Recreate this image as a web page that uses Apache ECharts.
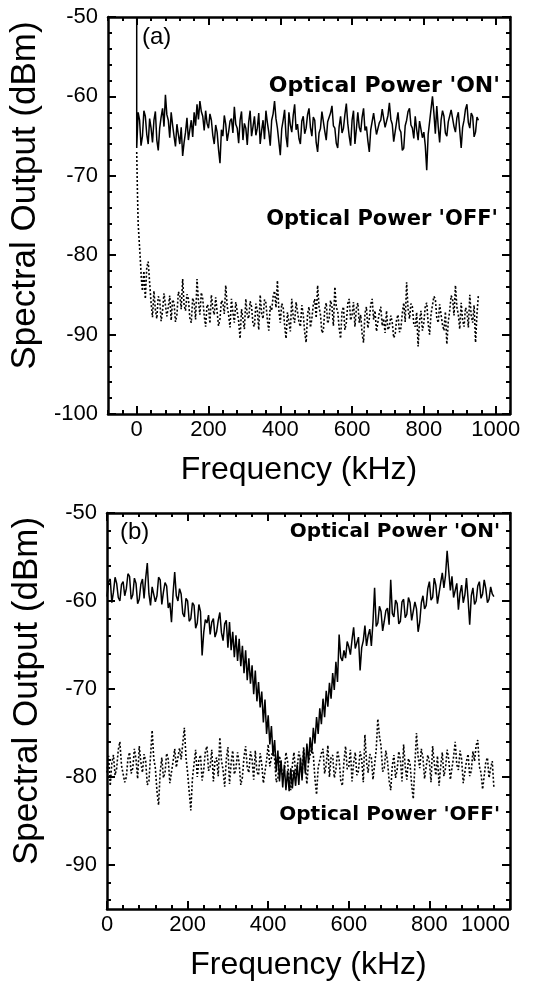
<!DOCTYPE html>
<html><head><meta charset="utf-8">
<script src="https://cdn.jsdelivr.net/npm/echarts@6/dist/echarts.min.js"></script>
<style>html,body{margin:0;padding:0;background:#fff}#c{width:538px;height:987px}</style>
</head><body><div id="c"></div>
<script>
// ---- frequency sample grid (kHz) ----
const freq4 = [0,4,8,12,16,20,24,28,32,36,40,44,48,52,56,60,64,68,72,76,80,84,88,92,96,100,104,108,112,116,120,124,128,132,136,140,144,148,152,156,160,164,168,172,176,180,184,188,192,196,200,204,208,212,216,220,224,228,232,236,240,244,248,252,256,260,264,268,272,276,280,284,288,292,296,300,304,308,312,316,320,324,328,332,336,340,344,348,352,356,360,364,368,372,376,380,384,388,392,396,400,404,408,412,416,420,424,428,432,436,440,444,448,452,456,460,464,468,472,476,480,484,488,492,496,500,504,508,512,516,520,524,528,532,536,540,544,548,552,556,560,564,568,572,576,580,584,588,592,596,600,604,608,612,616,620,624,628,632,636,640,644,648,652,656,660,664,668,672,676,680,684,688,692,696,700,704,708,712,716,720,724,728,732,736,740,744,748,752,756,760,764,768,772,776,780,784,788,792,796,800,804,808,812,816,820,824,828,832,836,840,844,848,852,856,860,864,868,872,876,880,884,888,892,896,900,904,908,912,916,920,924,928,932,936,940,944,948,952,956,960];

// ---- panel (a) ----
const dcSpikeA = [[0,-50]];
const valAOn = [-66.5,-62,-63,-66.2,-65,-61.8,-62.5,-64.8,-66,-62.8,-64,-65.8,-63,-61.9,-65.5,-66.8,-64,-62.6,-61.5,-63.8,-59.8,-62.3,-63,-65.2,-62,-63.6,-65,-66.3,-63.5,-64.8,-66,-63.9,-67.5,-65.8,-64.5,-62.7,-65.5,-64.2,-63,-65.1,-62,-63.7,-61,-62.9,-60.6,-61.9,-62.5,-64.3,-61.8,-63.4,-64,-62.2,-63,-64.9,-66,-63.6,-64.5,-66.7,-68.4,-64.2,-65,-62.4,-63.5,-65.6,-64.5,-63.1,-62.8,-64.6,-61.3,-63.5,-64,-65.9,-63,-61.9,-65.5,-63.4,-64,-66.1,-63.2,-61.8,-65,-63.8,-62.5,-64.9,-64,-62.1,-66,-64.3,-63,-65.4,-61.8,-63.3,-64.5,-66.2,-63,-62.2,-60.6,-62.8,-64,-65.7,-67.4,-64.1,-63,-61.7,-65,-66.4,-62,-63.6,-64.5,-62.4,-61,-64.2,-63.5,-65.3,-66,-63.1,-62.5,-64.7,-64,-62.3,-61.5,-63.9,-65,-62.6,-63,-65.8,-67,-64.6,-64,-61.9,-62,-64.4,-65.5,-63.2,-63,-62.1,-61.2,-63.7,-64,-65.9,-66.5,-63.8,-62.5,-64.6,-64,-62.3,-60.9,-63.4,-65,-66.2,-63,-61.8,-66,-64.1,-62,-63.9,-64.5,-62.6,-61.5,-64.3,-63.8,-65.6,-67,-64.2,-64,-62.1,-62.3,-64.8,-65,-63.3,-63,-61.6,-61.8,-63.9,-64,-62.4,-60.8,-62.9,-63.5,-65.7,-65.5,-63.2,-62,-64.1,-64.5,-66.8,-66.5,-63.7,-63,-61.9,-61.5,-63.6,-64,-65.3,-62.5,-64.2,-65.5,-63.1,-63,-65.2,-64.5,-66.2,-69.3,-64.8,-63.2,-61.6,-60,-62.1,-64.7,-61.2,-63.8,-65.8,-63,-61.8,-62.5,-64.6,-65,-63.2,-63,-61.7,-61.5,-63.8,-64.5,-62.7,-62,-64.3,-66.5,-63.9,-63,-61.6,-61,-63.3,-64,-62.1,-62.5,-65.1,-64.5,-62.6,-63];
const freqAOffHead = [0,2,4,6,8,10,13,16,20,24,28,32,36];
const valAOff = [-67,-72,-76,-77.5,-79,-80.5,-83,-84.5,-82,-85.5,-81.5,-80.8,-83.5,
 -86,-87.8,-84.5,-86.9,-88,-85.2,-85.5,-88.3,-87,-84.8,-85,-87.7,-86.5,-85.1,-88.2,-85.6,-86,-88.4,-87.5,-84.6,-85,-86.8,-83,-86.3,-87,-84.9,-85.5,-87.9,-88.5,-85.4,-86,-88.1,-83,-85.8,-87.5,-84.7,-85.5,-87.6,-89,-86.2,-86.5,-88.6,-85,-86.7,-87.5,-85.3,-85.5,-88.9,-88,-85.7,-86,-87.4,-83.8,-86.4,-87.5,-89.1,-85.5,-87.2,-88.5,-85.9,-86,-88.3,-90.5,-86.8,-87,-89.3,-85.5,-87.6,-88,-85.8,-86.5,-88.7,-89,-86.1,-87,-89.4,-85,-87.3,-88,-85.6,-86,-88.2,-89.5,-86.4,-87,-85.2,-84.5,-86.6,-83.2,-86.9,-88.5,-86.1,-86.5,-88.8,-90.5,-87.2,-87,-89.6,-85.5,-87.8,-88.5,-85.9,-86,-88.4,-89,-86.3,-87.5,-89.7,-91,-87.4,-86.5,-89.1,-88,-86.2,-85.5,-87.9,-83.8,-86.5,-87.5,-89.8,-89.5,-86.8,-86,-88.6,-88,-85.7,-86.5,-88.9,-84,-86.6,-87,-89.2,-90.5,-87.1,-86.5,-89.4,-88.5,-86.1,-85.5,-88.2,-87.5,-85.9,-89,-86.7,-86,-88.5,-87.5,-89.9,-91,-87.3,-86.5,-89.2,-88,-86.2,-85.5,-88.1,-87,-89.6,-89.5,-87.2,-86.5,-88.9,-88,-89.8,-87,-89.4,-89,-87.6,-88.5,-90.4,-90,-88.1,-87.5,-89.7,-89.2,-87.3,-86,-88.4,-83.4,-86.8,-88,-86.1,-86.5,-88.7,-89,-87.2,-91.5,-88.3,-87,-89.5,-88.5,-86.4,-86,-88.6,-90,-87.4,-87.5,-85.2,-85.5,-87.9,-88.5,-86.2,-86,-88.8,-89.5,-87.1,-91.2,-88.4,-87,-85.1,-85.5,-87.6,-83.8,-86.5,-87.5,-89.3,-86,-88.2,-89,-86.6,-87,-89.1,-85,-87.7,-88.5,-86.3,-91,-87.4,-85];

// ---- panel (b) ----
const valBOn = [-59.5,-57.8,-57.5,-60.2,-59,-57.3,-58,-59.6,-60,-58.1,-57.8,-59.4,-58.6,-56.9,-57.2,-59.8,-59.3,-57.4,-58,-60.3,-59.8,-58.1,-57.5,-59.7,-57.4,-55.7,-59.2,-60.5,-58.4,-58.2,-60.1,-59.4,-57.3,-57.6,-60.4,-59,-57.9,-58.3,-60.8,-60.2,-62.4,-59.1,-56.7,-59.4,-60,-58.6,-59.2,-61.4,-61.8,-59.7,-60,-62.3,-62,-60.2,-60.5,-63.1,-62.5,-60.4,-61.2,-66.2,-63.6,-62.1,-62.5,-61.6,-63.8,-62.4,-62,-64.1,-63.5,-62.2,-61.3,-63.6,-64.5,-62.6,
 -62.2,-65.3,-62.4,-65.6,-63.5,-66.4,-63.9,-66.8,-64.3,-67.4,-65.1,-68.2,-65.6,-69,-66.5,-69.4,-67.3,-70.6,-67.9,-71.4,-69.2,-72.1,-70.3,-73.8,-71.2,-75.1,-73,-76.3,-74.2,-77.6,-75.8,-79.4,-77,-80.5,-78.1,-81.2,-78.6,-81.5,-79.3,-81.6,-79,-81.3,-79.2,-81,-78.6,-80.9,-77.8,-80.4,-76.9,-79.6,-76.2,-78.4,-75.5,-77.3,-74.4,-76.2,-73.2,-75.1,-72.2,-74,-71.1,-73.2,-70.2,-72,-69.3,-71.1,-68.2,-70.1,-66.9,-69.2,
 -63.8,-66.4,-66.8,-65.6,-66.5,-64.6,-65.2,-66.1,-64.4,-63,-65.4,-65.5,-64.1,-67.9,-65.3,-64.5,-62.8,-65.1,-63.9,-63.2,-65.1,-62.4,-58.5,-62.9,-62.5,-60.6,-61.2,-63.4,-62.3,-61.1,-60.8,-62.7,-57.6,-61.4,-61.8,-59.9,-60.3,-62.6,-62.3,-60.1,-59.8,-61.9,-61.5,-59.6,-60.2,-62.2,-62,-60.1,-60.9,-63.5,-62.4,-60.2,-59.4,-60.9,-60.5,-58.6,-57.8,-59.9,-59.6,-57.4,-58.2,-60.3,-60.1,-57.9,-56.8,-58.5,-57.1,-54.3,-56.6,-58.8,-57.2,-59.6,-59.5,-58,-61,-59.1,-58.2,-60.2,-59.3,-57.4,-59.8,-62.7,-59.4,-58.5,-60.4,-60,-58.3,-57.8,-59.7,-59.2,-57.6,-58.6,-60.2,-59.8,-58.4,-59.2,-59.5];
const valBOff = [-79.5,-77.6,-81,-78.4,-77.5,-79.8,-79,-76.9,-76,-78.7,-78.5,-80.6,-80,-77.9,-77.2,-79.6,-79,-76.8,-78,-80.2,-76.5,-78.3,-79.5,-77.4,-78.2,-80.9,-80.5,-77.6,-74.7,-77.9,-79,-81.6,-83.2,-79.4,-77.8,-80.1,-79.5,-77.3,-78,-80.7,-80.5,-78.2,-76.8,-78.9,-79,-76.7,-78,-76.2,-74.4,-77.8,-79.5,-81.7,-83.8,-80.2,-78.5,-76.9,-80,-78.1,-77.5,-80.4,-79.2,-77.1,-76.5,-79.3,-78.8,-76.9,-80.5,-78.2,-77.8,-79.9,-75.5,-78.1,-79.2,-81.1,-78,-76.6,-80.8,-78.4,-77,-79.7,-79,-77.2,-78.5,-80.9,-80,-77.7,-76.5,-78.9,-79.5,-77.1,-78,-80.3,-77,-79.4,-79.8,-77.3,-78.5,-80.7,-80.5,-78.1,-76.3,-78.8,-79,-76.8,-78,-80.6,-80.2,-77.6,-77.5,-79.9,-79.5,-77.2,-78.2,-80.4,-81.5,-78.6,-77.2,-79.7,-79,-77.1,-78,-80.1,-76.6,-78.7,-80.8,-78.3,-78.5,-76.7,-77.5,-80.2,-82,-78.9,-79,-77.3,-76.8,-79.6,-78.6,-76.4,-80,-77.8,-77.5,-80.1,-79.2,-77,-78,-80.4,-81,-78.2,-76.5,-79.1,-78.8,-76.9,-80.5,-78.4,-77.2,-79.8,-79.3,-77.1,-78,-80.6,-75.2,-78.3,-79.5,-77.4,-77.8,-80.3,-80.2,-76.9,-73.4,-75.3,-76.5,-79.4,-79,-77,-78.2,-80.4,-81.5,-78.7,-77.5,-80.1,-79.2,-77.1,-78,-80.5,-76.3,-78.8,-80.3,-77.9,-78.5,-80.9,-82.5,-78.6,-75,-77.7,-79,-76.8,-77.8,-80.2,-80,-77.5,-78.3,-80.6,-76.5,-78.4,-79.8,-77.6,-81,-78.8,-77.2,-79.9,-79,-76.9,-78,-80.3,-80.5,-77.7,-76,-78.6,-79.2,-77,-78,-80.7,-80.8,-78.2,-77.4,-79.9,-79.3,-77.1,-78.2,-76.4,-75.8,-78.8,-79.5,-81.4,-81.2,-78.3,-77.8,-80.1,-79,-78.2,-81.2];

// ---- tick values ----
const xMajorA = [0,200,400,600,800,1000];
const xMinorA = [-80,-40,40,80,120,160,240,280,320,360,440,480,520,560,640,680,720,760,840,880,920,960,1040];
const xMajorB = [0,200,400,600,800,1000];
const xMinorB = [40,80,120,160,240,280,320,360,440,480,520,560,640,680,720,760,840,880,920,960];
const yMajorA = [-100,-90,-80,-70,-60,-50];
const yMinorA = [-98,-96,-94,-92,-88,-86,-84,-82,-78,-76,-74,-72,-68,-66,-64,-62,-58,-56,-54,-52];
const yMajorB = [-90,-80,-70,-60,-50];
const yMinorB = [-94,-92,-88,-86,-84,-82,-78,-76,-74,-72,-68,-66,-64,-62,-58,-56,-54,-52];

const FONT = '"Liberation Sans", Arial, Helvetica, sans-serif';
const BFONT = '"DejaVu Sans", sans-serif';

const zip = (xs, ys) => ys.map((v, i) => [xs[i], v]);
const freqAOff = freqAOffHead.concat(freq4.slice(10));
const line = {show: true, onZero: false, lineStyle: {color: '#000', width: 2.5}};
const noLine = {show: false, onZero: false};
const tk = (len, vals) => ({show: true, inside: true, length: len, customValues: vals, lineStyle: {color: '#000', width: 2}});

function xAxes(grid, min, max, major, minor, namePad, alignMax) {
  const base = {gridIndex: grid, type: 'value', min, max, splitLine: {show: false}};
  return [
    Object.assign({}, base, {position: 'bottom', axisLine: line, name: 'Frequency (kHz)', nameLocation: 'middle', nameGap: 40,
      nameTextStyle: {fontFamily: FONT, fontSize: 32, color: '#000', padding: namePad},
      axisTick: tk(8, major),
      axisLabel: {show: true, customValues: major, formatter: v => String(v), fontFamily: FONT, fontSize: 22, color: '#000', margin: 5, alignMaxLabel: alignMax}}),
    Object.assign({}, base, {position: 'bottom', axisLine: noLine, axisTick: tk(4, minor), axisLabel: {show: false}}),
    Object.assign({}, base, {position: 'top', axisLine: line, axisTick: tk(8, major), axisLabel: {show: false}}),
    Object.assign({}, base, {position: 'top', axisLine: noLine, axisTick: tk(4, minor), axisLabel: {show: false}})
  ];
}
function yAxes(grid, min, max, major, minor) {
  const base = {gridIndex: grid, type: 'value', min, max, splitLine: {show: false}};
  return [
    Object.assign({}, base, {position: 'left', axisLine: line, name: 'Spectral Output (dBm)', nameLocation: 'middle', nameGap: 62,
      nameTextStyle: {fontFamily: FONT, fontSize: 35, color: '#000', padding: [0, 0, 0, 40]},
      axisTick: tk(8, major),
      axisLabel: {show: true, customValues: major, formatter: v => String(v), fontFamily: FONT, fontSize: 22, color: '#000', margin: 10}}),
    Object.assign({}, base, {position: 'left', axisLine: noLine, axisTick: tk(4, minor), axisLabel: {show: false}}),
    Object.assign({}, base, {position: 'right', axisLine: line, axisTick: tk(8, major), axisLabel: {show: false}}),
    Object.assign({}, base, {position: 'right', axisLine: noLine, axisTick: tk(4, minor), axisLabel: {show: false}})
  ];
}

const chart = echarts.init(document.getElementById('c'), null, {renderer: 'canvas'});
const solid = {color: '#000', width: 1.5};
const dotted = {color: '#000', width: 1.6, type: [2, 2]};
chart.setOption({
  animation: false,
  backgroundColor: '#fff',
  grid: [
    {left: 108, top: 17, width: 402, height: 397},
    {left: 107, top: 513, width: 403, height: 396}
  ],
  xAxis: xAxes(0, -80, 1040, xMajorA, xMinorA, [0, 20, 0, 0], 'center')
    .concat(xAxes(1, 0, 1000, xMajorB, xMinorB, [0, 0, 0, 0], 'right')),
  yAxis: yAxes(0, -100, -50, yMajorA, yMinorA).concat(yAxes(1, -95, -50, yMajorB, yMinorB)),
  series: [
    {name: "Optical Power 'ON' (a)", type: 'line', xAxisIndex: 0, yAxisIndex: 0, symbol: 'none', clip: true,
      data: dcSpikeA.concat(zip(freq4, valAOn)), lineStyle: solid},
    {name: "Optical Power 'OFF' (a)", type: 'line', xAxisIndex: 0, yAxisIndex: 0, symbol: 'none', clip: true,
      data: zip(freqAOff, valAOff), lineStyle: dotted},
    {name: "Optical Power 'ON' (b)", type: 'line', xAxisIndex: 4, yAxisIndex: 4, symbol: 'none', clip: true,
      data: zip(freq4, valBOn), lineStyle: solid},
    {name: "Optical Power 'OFF' (b)", type: 'line', xAxisIndex: 4, yAxisIndex: 4, symbol: 'none', clip: true,
      data: zip(freq4, valBOff), lineStyle: dotted}
  ],
  graphic: [
    {type: 'text', x: 142, y: 37, style: {text: '(a)', font: '24px ' + FONT, fill: '#000', textVerticalAlign: 'middle'}},
    {type: 'text', x: 500, y: 86, style: {text: "Optical Power 'ON'", font: 'bold 22px ' + BFONT, fill: '#000', textAlign: 'right', textVerticalAlign: 'middle'}},
    {type: 'text', x: 498, y: 220, style: {text: "Optical Power 'OFF'", font: 'bold 21px ' + BFONT, fill: '#000', textAlign: 'right', textVerticalAlign: 'middle'}},
    {type: 'text', x: 120, y: 532, style: {text: '(b)', font: '24px ' + FONT, fill: '#000', textVerticalAlign: 'middle'}},
    {type: 'text', x: 500, y: 532, style: {text: "Optical Power 'ON'", font: 'bold 20px ' + BFONT, fill: '#000', textAlign: 'right', textVerticalAlign: 'middle'}},
    {type: 'text', x: 500, y: 815, style: {text: "Optical Power 'OFF'", font: 'bold 20px ' + BFONT, fill: '#000', textAlign: 'right', textVerticalAlign: 'middle'}}
  ]
});
</script></body></html>
